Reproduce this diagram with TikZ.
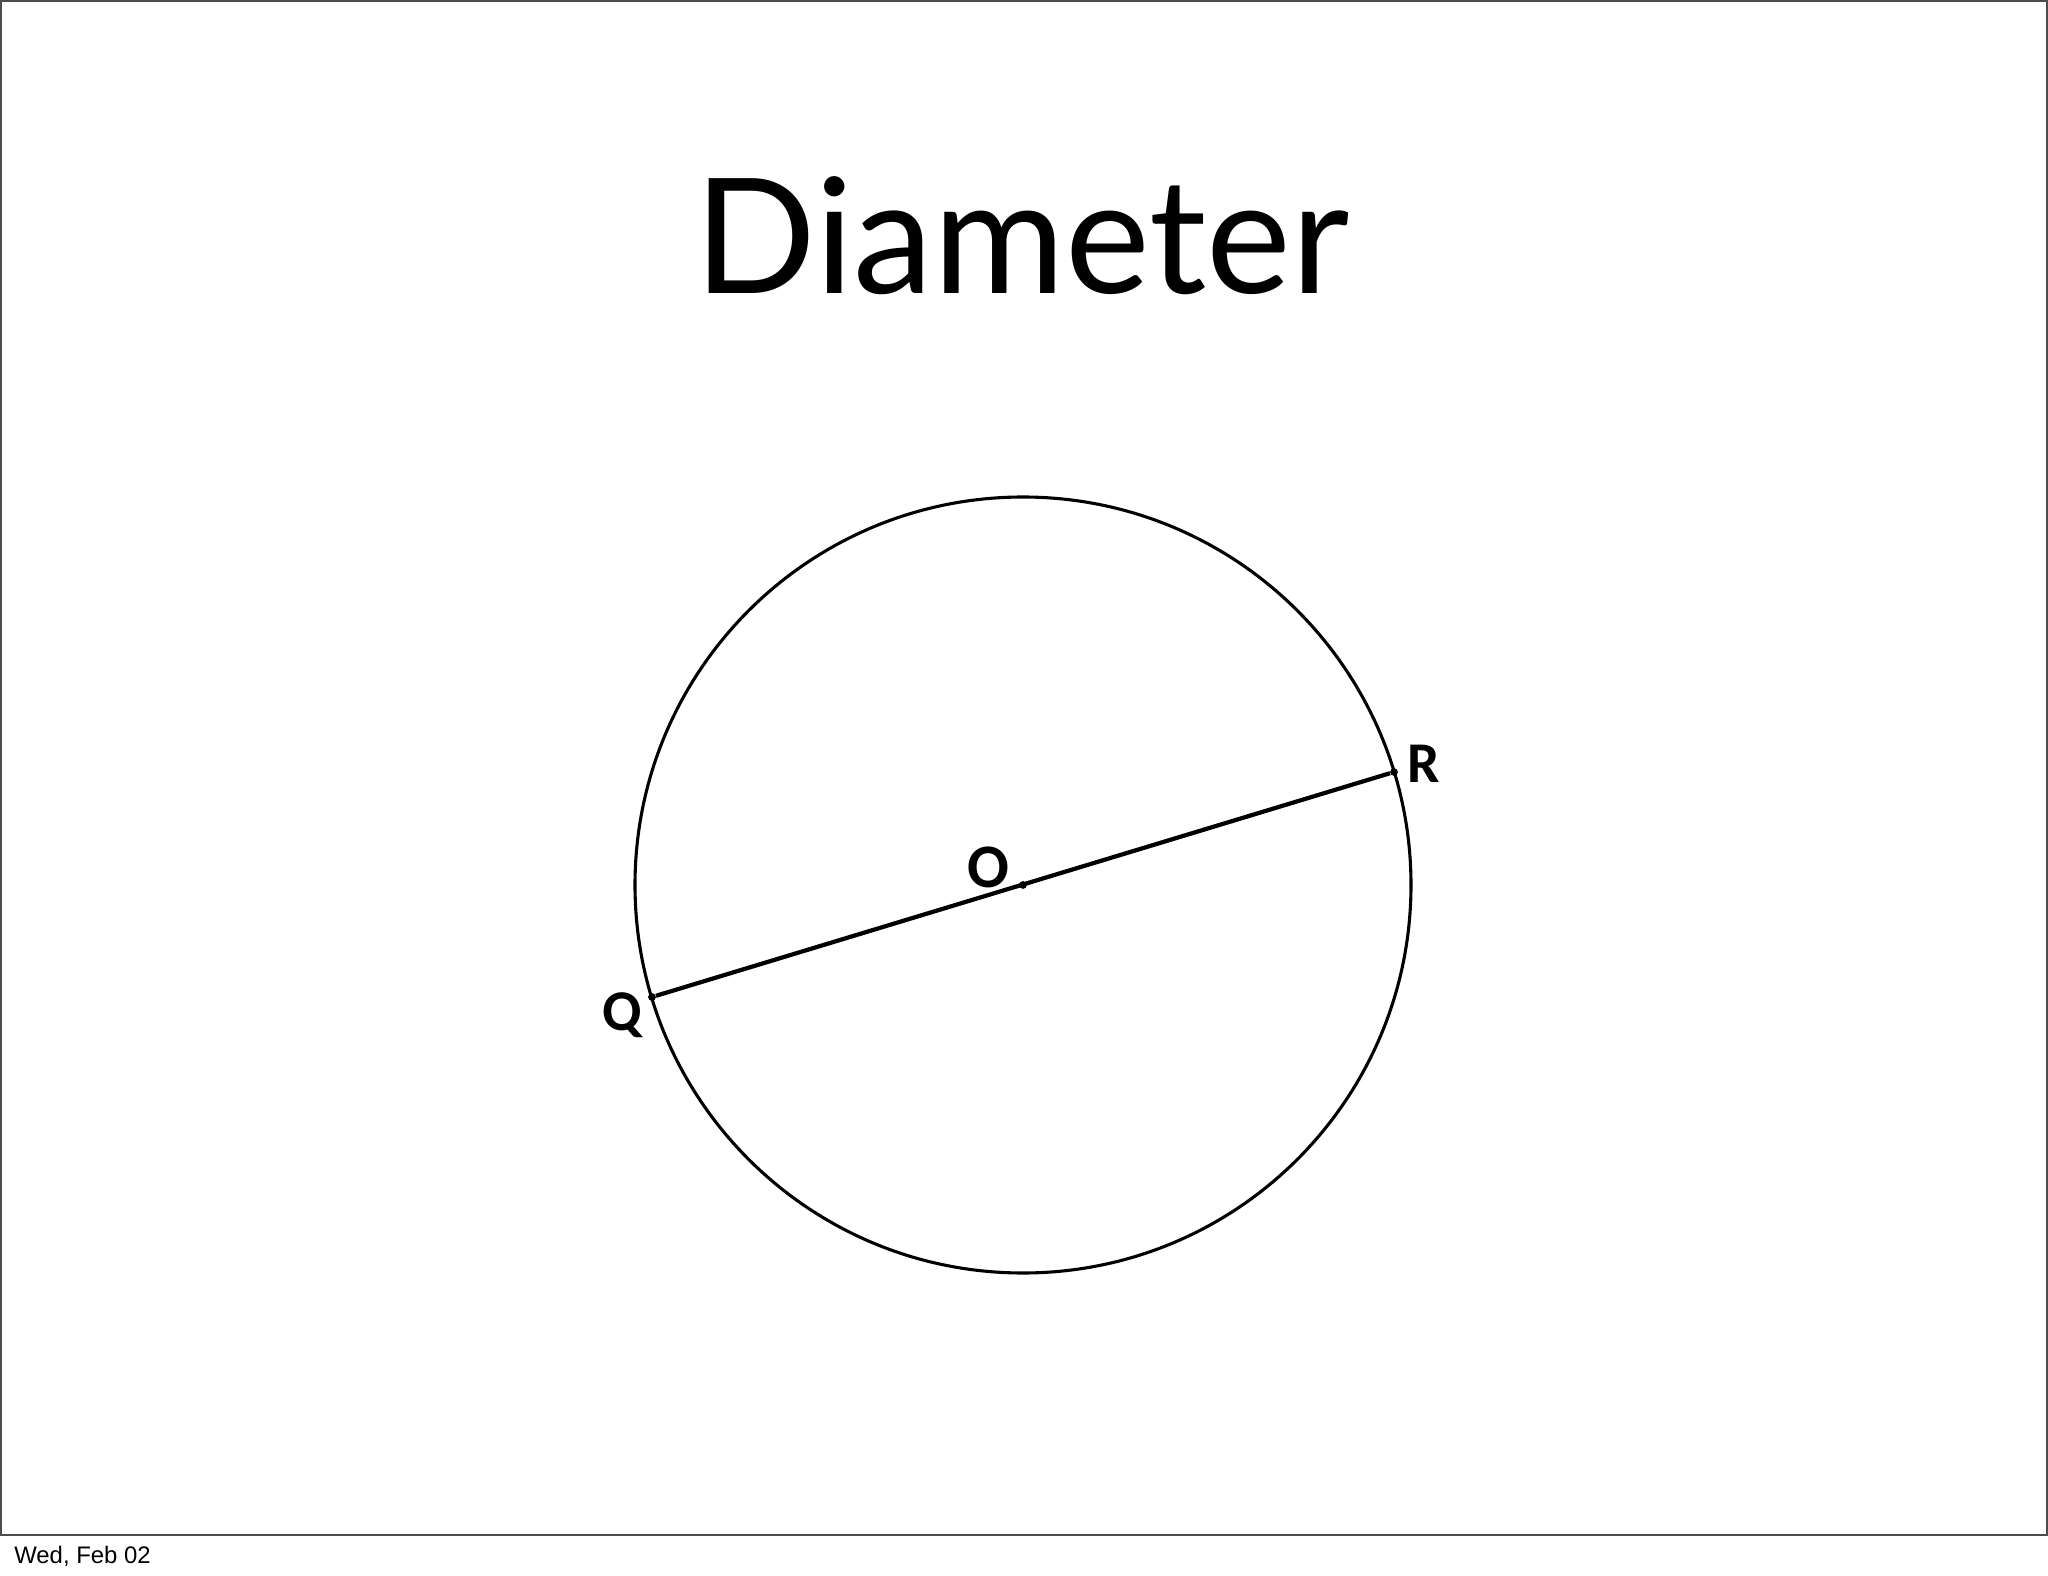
\documentclass[tikz,border=0pt]{standalone}
\usepackage{fontspec}
\setmainfont{Lato}
\newfontfamily\labelfont{Carlito}
\newfontfamily\datefont{Liberation Sans}
\usetikzlibrary{positioning}

\begin{document}
\begin{tikzpicture}[x=0.025cm, y=-0.025cm,
    dot/.style={circle, fill=black, inner sep=0pt, minimum size=5.5pt},
    ptlabel/.style={font=\labelfont\bfseries\fontsize{41}{41}\selectfont, inner sep=0pt}]
  \useasboundingbox (0,0) rectangle (2048,1576);

  % Slide frame
  \draw[line width=1.4pt, black!70] (1,1) rectangle (2047,1535);

  % Title
  \node[font=\fontsize{114}{114}\selectfont, anchor=base, inner sep=0pt] (title) at (1022,294) {Diameter};

  % Circle with centre O
  \node[dot] (O) at (1023,885) {};
  \draw[line width=2.2pt] (O) circle (388);

  % Diameter QR
  \node[dot] (Q) at (652,997) {};
  \node[dot] (R) at (1394,772) {};
  \draw[line width=3pt] (Q) -- (R);

  % Labels
  \node[ptlabel] (qlab) at (622,1015) {Q};
  \node[ptlabel] (rlab) at (1424,764) {R};
  \node[ptlabel, font=\labelfont\bfseries\fontsize{44}{44}\selectfont] (olab) at (988,867) {O};

  % Date
  \node[font=\datefont\fontsize{17}{17}\selectfont, anchor=base west, inner sep=0pt] (date) at (14,1563) {Wed, Feb 02};
\end{tikzpicture}
\end{document}
